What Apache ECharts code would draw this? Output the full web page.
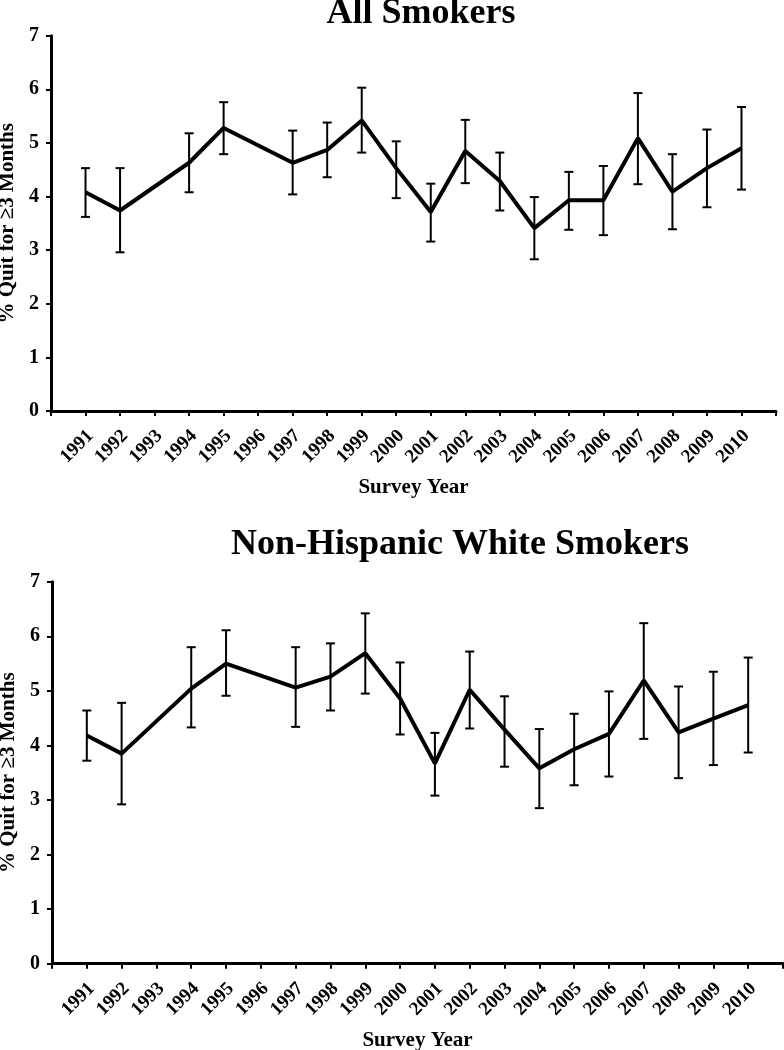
<!DOCTYPE html>
<html>
<head>
<meta charset="utf-8">
<script src="https://cdn.jsdelivr.net/npm/echarts@6/dist/echarts.min.js"></script>
<style>
html,body{margin:0;padding:0;background:#fff;}
#chart{width:784px;height:1050px;}
</style>
</head>
<body>
<div id="chart"></div>
<script>
var years = [1991,1992,1993,1994,1995,1996,1997,1998,1999,2000,2001,2002,2003,2004,2005,2006,2007,2008,2009,2010];
var allMean = [4.08,3.74,null,4.63,5.28,null,4.63,4.87,5.42,4.53,3.71,4.85,4.29,3.41,3.93,3.93,5.09,4.09,4.53,4.90];
var allLow  = [3.62,2.96,null,4.08,4.79,null,4.04,4.36,4.82,3.97,3.16,4.25,3.74,2.83,3.38,3.28,4.23,3.39,3.80,4.13];
var allHigh = [4.53,4.53,null,5.18,5.76,null,5.23,5.38,6.03,5.03,4.24,5.43,4.82,3.99,4.46,4.57,5.93,4.79,5.25,5.67];
var nhwMean = [4.18,3.85,null,5.04,5.50,null,5.06,5.26,5.69,4.86,3.67,5.02,4.29,3.58,3.93,4.21,5.19,4.24,4.49,4.74];
var nhwLow  = [3.72,2.92,null,4.33,4.91,null,4.34,4.64,4.95,4.20,3.08,4.31,3.61,2.85,3.27,3.43,4.12,3.40,3.64,3.87];
var nhwHigh = [4.64,4.78,null,5.80,6.11,null,5.80,5.87,6.42,5.52,4.23,5.72,4.90,4.30,4.58,4.99,6.24,5.08,5.35,5.61];
var titles = ['All Smokers','Non-Hispanic White Smokers'];
var yName = '% Quit for \u22653 Months';
var xName = 'Survey Year';
var xMin = 1990, xMax = 2011;

var FONT = '"Liberation Serif","Times New Roman",serif';

function pairs(arr){ return years.map(function(y,i){ return [y, arr[i]]; }); }
function bars(lo,hi){
  var out=[];
  years.forEach(function(y,i){ if(lo[i]!=null) out.push([y,lo[i],hi[i]]); });
  return out;
}
function errRender(params, api){
  var x = api.value(0);
  var lo = api.coord([x, api.value(1)]);
  var hi = api.coord([x, api.value(2)]);
  var w = 4.5;
  var st = {stroke:'#000', lineWidth:2};
  return {type:'group', children:[
    {type:'line', shape:{x1:lo[0],y1:lo[1],x2:hi[0],y2:hi[1]}, style:st},
    {type:'line', shape:{x1:lo[0]-w,y1:lo[1],x2:lo[0]+w,y2:lo[1]}, style:st},
    {type:'line', shape:{x1:hi[0]-w,y1:hi[1],x2:hi[0]+w,y2:hi[1]}, style:st}
  ]};
}
function xAxis(idx){
  return {
    type:'value', gridIndex:idx, min:xMin, max:xMax, interval:1,
    name:xName, nameLocation:'middle', nameGap:66,
    nameTextStyle:{fontFamily:FONT, fontWeight:'bold', fontSize:21, color:'#000'},
    axisLine:{lineStyle:{color:'#000', width:3}},
    axisTick:{show:true, length:5, lineStyle:{color:'#000', width:2}},
    splitLine:{show:false},
    axisLabel:{
      rotate:45, margin:27, padding:[0,-7,0,0], fontFamily:FONT, fontWeight:'bold', fontSize:19, color:'#000',
      hideOverlap:false,
      formatter:function(v){ return (v>xMin && v<xMax) ? String(v) : ''; }
    }
  };
}
function yAxis(idx){
  return {
    type:'value', gridIndex:idx, min:0, max:7, interval:1,
    name:yName, nameLocation:'middle', nameGap:29, nameRotate:90,
    nameTextStyle:{fontFamily:FONT, fontWeight:'bold', fontSize:21, color:'#000'},
    axisLine:{show:true, lineStyle:{color:'#000', width:3}},
    axisTick:{show:true, length:5, lineStyle:{color:'#000', width:2}},
    splitLine:{show:false},
    axisLabel:{margin:12, fontFamily:FONT, fontWeight:'bold', fontSize:20, color:'#000'}
  };
}

var chart = echarts.init(document.getElementById('chart'), null, {renderer:'canvas'});
chart.setOption({
  backgroundColor:'#fff',
  animation:false,
  title:[
    {text:titles[0], left:416, top:-9, textAlign:'center',
     textStyle:{fontFamily:FONT, fontWeight:'bold', fontSize:36, color:'#000'}},
    {text:titles[1], left:455, top:522, textAlign:'center',
     textStyle:{fontFamily:FONT, fontWeight:'bold', fontSize:36, color:'#000'}}
  ],
  grid:[
    {left:51, top:35.7, width:725, height:375.3, outerBoundsMode:'none', containLabel:false},
    {left:52, top:581.7, width:731, height:382, outerBoundsMode:'none', containLabel:false}
  ],
  xAxis:[xAxis(0), xAxis(1)],
  yAxis:[yAxis(0), yAxis(1)],
  series:[
    {type:'custom', xAxisIndex:0, yAxisIndex:0, renderItem:errRender, data:bars(allLow,allHigh), silent:true, z:2},
    {type:'line', xAxisIndex:0, yAxisIndex:0, data:pairs(allMean), connectNulls:true, showSymbol:false, symbol:'none',
     lineStyle:{color:'#000', width:4}, z:3},
    {type:'custom', xAxisIndex:1, yAxisIndex:1, renderItem:errRender, data:bars(nhwLow,nhwHigh), silent:true, z:2},
    {type:'line', xAxisIndex:1, yAxisIndex:1, data:pairs(nhwMean), connectNulls:true, showSymbol:false, symbol:'none',
     lineStyle:{color:'#000', width:4}, z:3}
  ]
});
</script>
</body>
</html>
